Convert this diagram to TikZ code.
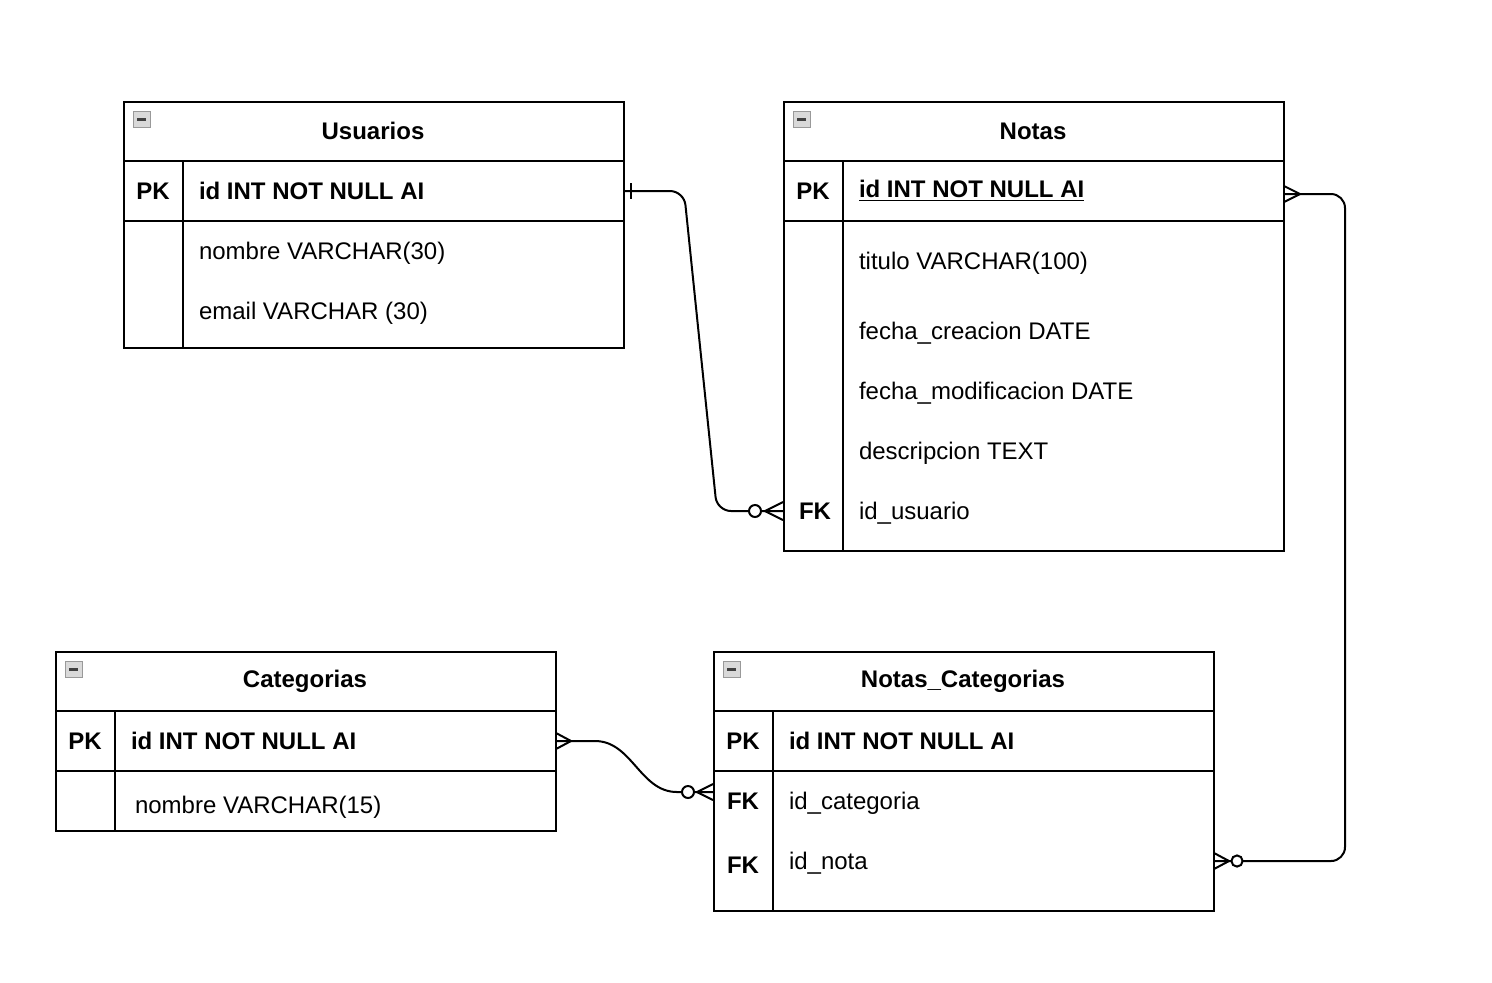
\documentclass[tikz,border=0pt]{standalone}
\usepackage{fontspec}
\setmainfont{Liberation Sans}
\usetikzlibrary{calc}
\begin{document}
\begin{tikzpicture}[x=0.5pt,y=-0.5pt,line width=1pt,
  font=\fontsize{12}{14}\selectfont,
  tbl/.style={draw,line width=1pt,anchor=north west,inner sep=0pt,minimum width=250pt},
  ttl/.style={font=\fontsize{12}{14}\selectfont\bfseries},
  keyc/.style={font=\fontsize{12}{14}\selectfont\bfseries,inner sep=0pt},
  fld/.style={anchor=west,inner sep=0pt,yshift=-1pt},
  fldb/.style={anchor=west,inner sep=0pt,font=\fontsize{12}{14}\selectfont\bfseries},
  conn/.style={line width=1pt,rounded corners=7pt},
  endmark/.style={line width=1pt},
  ringmark/.style={line width=1pt,fill=white},
  iconbox/.style={fill=black!15,draw=black!40,line width=0.5pt},
  iconbar/.style={draw=black!75,line width=1.5pt}]
\fill[white] (0,0) rectangle (1492,982);
\useasboundingbox (0,0) rectangle (1492,982);

% ---------- Usuarios ----------
\node[tbl,minimum height=123pt] (usuarios) at (123,101) {};
\draw (123,161) -- (623,161);
\draw (123,221) -- (623,221);
\draw (183,161) -- (183,347);
\draw[iconbox] (133,111) rectangle (150,127);
\draw[iconbar] (137,119) -- (146,119);
\node[ttl] (usuariosT) at (373,131) {Usuarios};
\node[keyc] (uPK) at (153,191) {PK};
\node[fldb] (uId) at (198,191) {id INT NOT NULL AI};
\node[fld] (uNom) at (198,251) {nombre VARCHAR(30)};
\node[fld] (uEmail) at (198,311) {email VARCHAR (30)};

% ---------- Notas ----------
\node[tbl,minimum height=224.5pt] (notas) at (783,101) {};
\draw (783,161) -- (1283,161);
\draw (783,221) -- (1283,221);
\draw (843,161) -- (843,550);
\draw[iconbox] (793,111) rectangle (810,127);
\draw[iconbar] (797,119) -- (806,119);
\node[ttl] (notasT) at (1033,131) {Notas};
\node[keyc] (nPK) at (813,191) {PK};
\node[fldb] (nId) at (858,191) {\underline{id INT NOT NULL AI}};
\node[fld] (nTit) at (858,261) {titulo VARCHAR(100)};
\node[fld] (nFc) at (858,331) {fecha\_creacion DATE};
\node[fld] (nFm) at (858,391) {fecha\_modificacion DATE};
\node[fld] (nDes) at (858,451) {descripcion TEXT};
\node[keyc] (nFK) at (815,511) {FK};
\node[fld] (nUsr) at (858,511) {id\_usuario};

% ---------- Categorias ----------
\node[tbl,minimum height=89.5pt] (cat) at (55,651) {};
\draw (55,711) -- (555,711);
\draw (55,771) -- (555,771);
\draw (115,711) -- (115,830);
\draw[iconbox] (65,661) rectangle (82,677);
\draw[iconbar] (69,669) -- (78,669);
\node[ttl] (catT) at (305,681) {Categorias};
\node[keyc] (cPK) at (85,741) {PK};
\node[fldb] (cId) at (130,741) {id INT NOT NULL AI};
\node[fld] (cNom) at (134,805) {nombre VARCHAR(15)};

% ---------- Notas_Categorias ----------
\node[tbl,minimum height=129.5pt] (nc) at (713,651) {};
\draw (713,711) -- (1213,711);
\draw (713,771) -- (1213,771);
\draw (773,711) -- (773,910);
\draw[iconbox] (723,661) rectangle (740,677);
\draw[iconbar] (727,669) -- (736,669);
\node[ttl] (ncT) at (963,681) {Notas\_Categorias};
\node[keyc] (ncPK) at (743,741) {PK};
\node[fldb] (ncId) at (788,741) {id INT NOT NULL AI};
\node[keyc] (ncFK1) at (743,801) {FK};
\node[fld] (ncCat) at (788,801) {id\_categoria};
\node[keyc] (ncFK2) at (743,865) {FK};
\node[fld] (ncNota) at (788,861) {id\_nota};

% ---------- Connectors ----------
% Usuarios (1) -> Notas (0..n)
\draw[conn] (usuarios.east |- uPK) -- (684,191) -- (717,511) -- (notas.west |- nFK);
\draw[endmark] (631,183) -- (631,199);
\draw[endmark] (765,511) -- (783,502);
\draw[endmark] (765,511) -- (783,520);
\draw[ringmark] (755,511) circle[radius=3pt];

% Notas (n) -> Notas_Categorias (0..n)
\draw[conn] ($(notas.east |- nPK)+(0,3)$) -- (1345,194) -- (1345,861) -- ($(nc.east |- ncNota)+(0,-2)$);
\draw[endmark] (1284,186) -- (1300,194) -- (1284,202);
\draw[endmark] (1214,853) -- (1229,861) -- (1214,869);
\draw[ringmark] (1237,861) circle[radius=2.8pt];

% Categorias (n) -> Notas_Categorias (0..n)
\draw[line width=1pt] (cat.east |- cPK) -- (595,741) .. controls (632,741) and (640,792) .. (677,792) -- ($(nc.west |- ncCat)+(0,-11)$);
\draw[endmark] (556,733) -- (571,741) -- (556,749);
\draw[endmark] (697,792) -- (713,784);
\draw[endmark] (697,792) -- (713,800);
\draw[ringmark] (688,792) circle[radius=3pt];
\end{tikzpicture}
\end{document}
